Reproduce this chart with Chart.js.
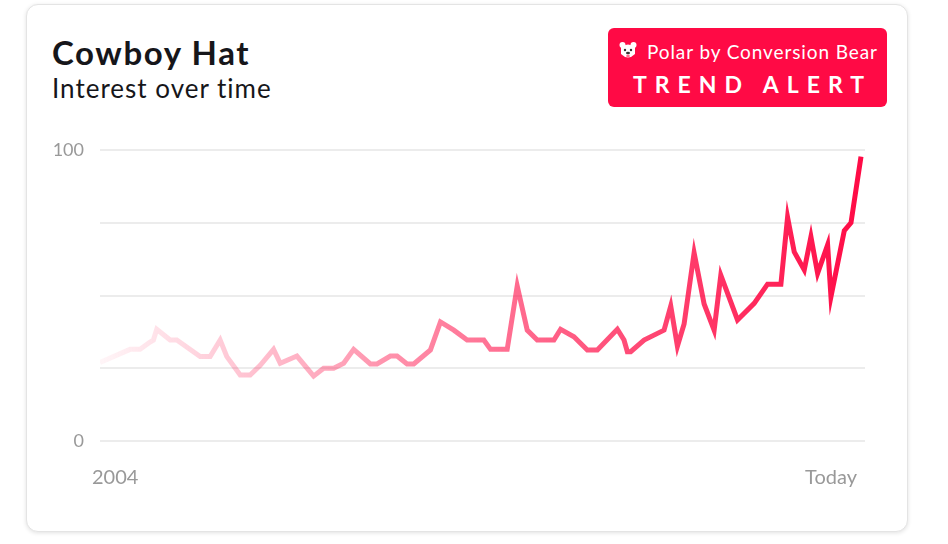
<!DOCTYPE html>
<html>
<head>
<meta charset="utf-8">
<script src="https://cdn.jsdelivr.net/npm/chart.js@4.4.0/dist/chart.umd.min.js"></script>
<style>
  html, body { margin: 0; padding: 0; background: #fff; }
  #wrap { position: relative; width: 948px; height: 544px; overflow: hidden; font-family: Lato, "Noto Sans", sans-serif; }
  .card {
    position: absolute; left: 26px; top: 4px; width: 882px; height: 528px;
    border: 1px solid #e4e4e4; border-radius: 12px; background: #fff;
    box-shadow: 0 1px 4px rgba(0, 0, 0, 0.12);
    box-sizing: border-box;
  }
  .title { position: absolute; left: 52px; top: 36px; font-size: 33px; line-height: 1; font-weight: 700; letter-spacing: 1.6px; color: #16161a; }
  .subtitle { position: absolute; left: 52px; top: 75px; font-size: 26px; line-height: 1; font-weight: 400; letter-spacing: 1px; color: #16161a; }
  .badge {
    position: absolute; left: 608px; top: 28px; width: 279px; height: 79px;
    background: #ff0a45; border-radius: 6px; color: #fff;
  }
  .badge svg { position: absolute; left: 11px; top: 13px; }
  .badge .brand { position: absolute; left: 39px; top: 14px; font-size: 19px; line-height: 1; letter-spacing: 0.9px; white-space: nowrap; }
  .badge .alert { position: absolute; left: 25px; top: 45px; font-size: 23px; line-height: 1; font-weight: 700; letter-spacing: 8px; white-space: nowrap; }
  canvas { position: absolute; left: 0; top: 0; }
</style>
</head>
<body>
<div id="wrap">
  <div class="card"></div>
  <div class="title">Cowboy Hat</div>
  <div class="subtitle">Interest over time</div>
  <div class="badge">
    <svg width="18" height="20" viewBox="0 0 18 20">
      <circle cx="3.5" cy="4" r="3" fill="#fff"/>
      <circle cx="14.5" cy="4" r="3" fill="#fff"/>
      <path d="M2 6 Q9 1 16 6 L16 13 Q9 20 2 13 Z" fill="#fff"/>
      <circle cx="6" cy="9" r="1.2" fill="#333"/>
      <circle cx="12" cy="9" r="1.2" fill="#333"/>
      <ellipse cx="9" cy="12" rx="2" ry="1.3" fill="#333"/>
      <ellipse cx="9" cy="15" rx="1.8" ry="1.4" fill="#ff6b8b"/>
    </svg>
    <div class="brand">Polar by Conversion Bear</div>
    <div class="alert">TREND ALERT</div>
  </div>
  <canvas id="chart" width="948" height="544"></canvas>
</div>
<script>
// months since Jan 2004
var months = [0, 9, 12, 15, 16, 17, 21, 23, 30, 33, 36, 38, 42, 45, 48, 52, 54, 59, 64, 67,
  70, 73, 76, 81, 83, 87, 89, 92, 94, 99, 102, 106, 110, 115, 117, 122, 125, 128, 131, 136,
  138, 142, 146, 149, 155, 157, 158, 159, 163, 169, 171, 173, 175, 178, 181, 184, 186, 191, 196, 200,
  204, 206, 208, 211, 213, 215, 218, 219, 223, 225, 228];
var interest = [27, 31.5, 31.5, 34, 34.7, 38.4, 34.7, 34.7, 29, 29, 34.7, 29, 22.7, 22.7, 26, 31.5, 26.7, 29.2, 22.3, 25,
  25, 26.7, 31.5, 26.5, 26.5, 29.2, 29.2, 26.5, 26.5, 31.3, 40.9, 38.1, 34.7, 34.7, 31.5, 31.5, 53.3, 38.1, 34.7, 34.7,
  38.4, 35.8, 31.3, 31.3, 38.4, 34.7, 30.7, 30.7, 34.7, 38.1, 46.4, 32.6, 40.2, 64.7, 47.1, 38.1, 57, 41.6, 47.3, 53.9,
  53.9, 76.9, 65, 58.8, 70.2, 57.6, 67.4, 49.6, 72.3, 75, 97.7];
var xTickLabels = ['2004', 'Today'];
var yTickLabels = [0, 100];

var points = months.map(function (m, i) {
  return { x: m, y: interest[i] };
});

function lineGradient(context) {
  var chart = context.chart;
  var area = chart.chartArea;
  if (!area) {
    return 'rgba(255,10,69,0.5)';
  }
  var g = chart.ctx.createLinearGradient(area.left, 0, area.right, 0);
  g.addColorStop(0, 'rgba(255,10,69,0.04)');
  g.addColorStop(0.45, 'rgba(255,10,69,0.52)');
  g.addColorStop(1, 'rgba(255,10,69,1)');
  return g;
}

new Chart(document.getElementById('chart'), {
  type: 'line',
  data: {
    datasets: [{
      data: points,
      borderColor: lineGradient,
      borderWidth: 5,
      pointRadius: 0,
      tension: 0,
      fill: false
    }]
  },
  options: {
    responsive: false,
    devicePixelRatio: 1,
    animation: false,
    layout: { padding: { left: 40, right: 83, top: 150, bottom: 43 } },
    plugins: { legend: { display: false }, tooltip: { enabled: false } },
    scales: {
      x: {
        type: 'linear',
        min: months[0],
        max: 229.2,
        afterBuildTicks: function (scale) {
          scale.ticks = [{ value: scale.min }, { value: scale.max }];
        },
        afterFit: function (scale) { scale.height = 60; },
        grid: { display: false },
        border: { display: false },
        ticks: {
          align: 'inner',
          padding: 17,
          labelOffset: -8,
          color: '#999',
          font: { family: 'Lato', size: 20 },
          callback: function (v, i) { return xTickLabels[i]; }
        }
      },
      y: {
        min: 0,
        max: 100,
        afterFit: function (scale) { scale.width = 60; },
        grid: { color: '#ececec', lineWidth: 2, drawTicks: false },
        border: { display: false },
        ticks: {
          stepSize: 25,
          padding: 16,
          color: '#999',
          font: { family: 'Lato', size: 18 },
          callback: function (v) { return yTickLabels.indexOf(v) >= 0 ? String(v) : ''; }
        }
      }
    }
  }
});
</script>
</body>
</html>
